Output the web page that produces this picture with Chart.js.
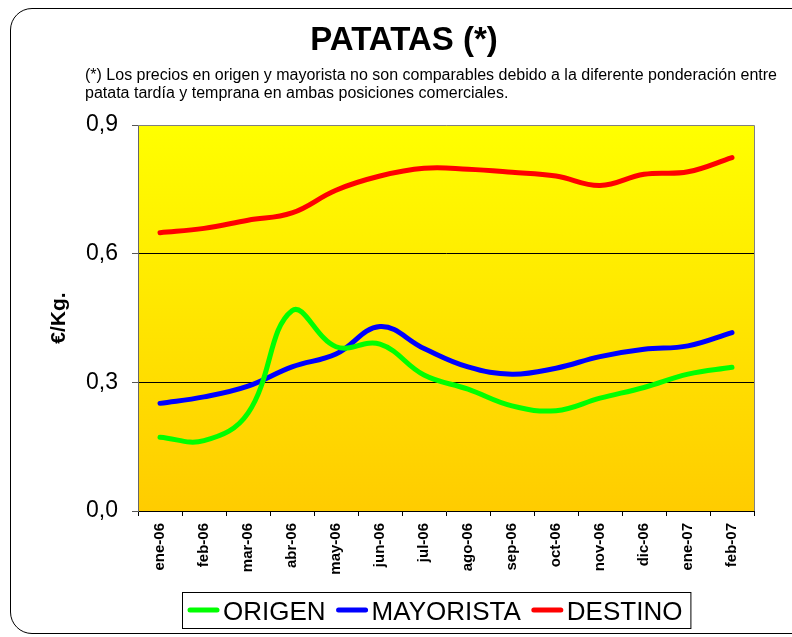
<!DOCTYPE html>
<html>
<head>
<meta charset="utf-8">
<script src="https://cdn.jsdelivr.net/npm/chart.js@4"></script>
<style>
  html, body { margin: 0; padding: 0; background: #fff; }
  body { width: 792px; height: 637px; position: relative; overflow: hidden; font-family: "Liberation Sans", Arial, sans-serif; }
  .frame { position: absolute; left: 10px; top: 8px; width: 820px; height: 624px; border: 1.5px solid #000; border-radius: 22px; }
  .title { position: absolute; left: 0; width: 808px; top: 22px; text-align: center; font-size: 33px; line-height: 33px; font-weight: bold; color: #000; }
  .note { position: absolute; left: 85px; top: 66px; width: 705px; font-size: 16px; line-height: 18px; color: #000; white-space: nowrap; }
  canvas { position: absolute; left: 0; top: 0; }
</style>
</head>
<body>
<div class="frame"></div>
<canvas id="chart" width="792" height="637"></canvas>
<div class="title">PATATAS (*)</div>
<div class="note">(*) Los precios en origen y mayorista no son comparables debido a la diferente ponderación entre<br>patata tardía y temprana en ambas posiciones comerciales.</div>
<script>
const months = ['ene-06','feb-06','mar-06','abr-06','may-06','jun-06','jul-06','ago-06','sep-06','oct-06','nov-06','dic-06','ene-07','feb-07']
const origen = [0.172, 0.164, 0.228, 0.467, 0.383, 0.389, 0.317, 0.284, 0.245, 0.234, 0.263, 0.288, 0.319, 0.335]
const mayorista = [0.251, 0.266, 0.291, 0.336, 0.366, 0.430, 0.379, 0.336, 0.319, 0.333, 0.360, 0.377, 0.385, 0.416]
const destino = [0.649, 0.659, 0.678, 0.695, 0.748, 0.781, 0.799, 0.797, 0.790, 0.781, 0.759, 0.785, 0.791, 0.824]
const yTicks = [0, 0.3, 0.6, 0.9]

const FONT = '"Liberation Sans", Arial, sans-serif'

// yellow to orange fill behind the plot, grey frame on top/right
const plotBackground = {
    id: 'plotBackground',
    beforeDraw(chart) {
        const { ctx, chartArea: a } = chart
        const g = ctx.createLinearGradient(0, a.top, 0, a.bottom)
        g.addColorStop(0, '#FFFF00')
        g.addColorStop(1, '#FFCC00')
        ctx.save()
        ctx.fillStyle = g
        ctx.fillRect(a.left, a.top, a.right - a.left, a.bottom - a.top)
        ctx.restore()
    },
    afterDraw(chart) {
        const { ctx, chartArea: a } = chart
        ctx.save()
        ctx.strokeStyle = '#808080'
        ctx.lineWidth = 1
        ctx.beginPath()
        ctx.moveTo(a.left, a.top + 0.5)
        ctx.lineTo(a.right + 0.5, a.top + 0.5)
        ctx.lineTo(a.right + 0.5, a.bottom)
        ctx.stroke()
        ctx.restore()
    }
}

// boxed legend below the month labels
const legendBox = {
    id: 'legendBox',
    afterDraw(chart) {
        const { ctx } = chart
        ctx.save()
        ctx.font = '26px ' + FONT
        const items = chart.data.datasets.map(ds => ({
            text: ds.label,
            color: ds.borderColor,
            w: ctx.measureText(ds.label).width
        }))
        const lineW = 33, gap = 3, sep = 10
        const total = 5 + items.reduce((s, it) => s + lineW + gap + it.w, 0) + sep * (items.length - 1) + 8
        const left = 182, top = 592, h = 36
        ctx.fillStyle = '#fff'
        ctx.fillRect(left, top, total, h)
        ctx.strokeStyle = '#000'
        ctx.lineWidth = 1
        ctx.strokeRect(left + 0.5, top + 0.5, total, h)

        let x = left + 5
        items.forEach(it => {
            ctx.strokeStyle = it.color
            ctx.lineWidth = 5
            ctx.lineCap = 'round'
            ctx.beginPath()
            ctx.moveTo(x + 3, top + 18)
            ctx.lineTo(x + lineW - 3, top + 18)
            ctx.stroke()
            x += lineW + gap
            ctx.fillStyle = '#000'
            ctx.textBaseline = 'alphabetic'
            ctx.fillText(it.text, x, top + 28)
            x += it.w + sep
        })
        ctx.restore()
    }
}

const series = (label, data, color) => ({
    label,
    data,
    borderColor: color,
    backgroundColor: color,
    borderWidth: 5,
    borderCapStyle: 'round',
    pointRadius: 0,
    tension: 0.4,
    fill: false
})

new Chart(document.getElementById('chart').getContext('2d'), {
    type: 'line',
    data: {
        labels: months,
        datasets: [
            series('ORIGEN', origen, '#00FF00'),
            series('MAYORISTA', mayorista, '#0000FF'),
            series('DESTINO', destino, '#FF0000')
        ]
    },
    options: {
        responsive: false,
        animation: false,
        devicePixelRatio: 1,
        layout: { padding: { top: 125, right: 38, bottom: 0, left: 0 } },
        plugins: {
            legend: { display: false },
            tooltip: { enabled: false }
        },
        scales: {
            x: {
                offset: true,
                afterFit: s => { s.height = 126 },
                grid: {
                    offset: true,
                    drawOnChartArea: false,
                    tickLength: 5,
                    tickColor: '#000'
                },
                border: { color: '#000', width: 1 },
                ticks: {
                    autoSkip: false,
                    minRotation: 90,
                    maxRotation: 90,
                    padding: 7,
                    color: '#000',
                    font: { family: FONT, size: 15, weight: 'bold' }
                }
            },
            y: {
                min: 0,
                max: 0.9,
                afterFit: s => { s.width = 138 },
                afterBuildTicks: s => { s.ticks = yTicks.map(v => ({ value: v })) },
                grid: {
                    color: c => (c.tick && (c.tick.value === 0.3 || c.tick.value === 0.6)) ? '#000' : 'rgba(0,0,0,0)',
                    tickLength: 6,
                    tickColor: '#555'
                },
                border: { color: '#666', width: 1 },
                ticks: {
                    padding: 14,
                    color: '#000',
                    font: { family: FONT, size: 23 },
                    callback: v => v.toFixed(1).replace('.', ',')
                },
                title: {
                    display: true,
                    text: '€/Kg.',
                    color: '#000',
                    padding: { top: 47, bottom: 0 },
                    font: { family: FONT, size: 21, weight: 'bold' }
                }
            }
        }
    },
    plugins: [plotBackground, legendBox]
})
</script>
</body>
</html>
